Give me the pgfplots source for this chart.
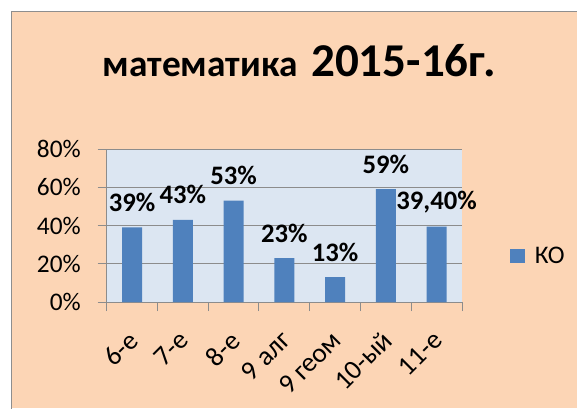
\documentclass[border=0pt]{standalone}
\usepackage{pgfplots}
\pgfplotsset{compat=1.18}
\usepackage{fontspec}
\setmainfont{Carlito}
\definecolor{peach}{HTML}{FCD5B5}
\definecolor{plotblue}{HTML}{DCE6F2}
\definecolor{barblue}{HTML}{4F81BD}
\definecolor{gridgray}{HTML}{8C8C8C}
\definecolor{bordergray}{HTML}{8E8E8E}
\begin{document}
\begin{tikzpicture}
\path[use as bounding box] (0pt,0pt) rectangle (432.75pt,306pt);
\fill[white] (0pt,0pt) rectangle (432.75pt,306pt);
\fill[peach] (8.625pt,0pt) rectangle (440pt,297pt);
\draw[bordergray, line width=0.75pt] (8.625pt,-5pt) -- (8.625pt,297pt) -- (440pt,297pt);
\node[anchor=base west, inner sep=0pt, font=\fontsize{28pt}{32pt}\selectfont\bfseries] at (77.0pt,248.5pt) {математика};
\node[anchor=base west, inner sep=0pt, font=\fontsize{35.3pt}{40pt}\selectfont\bfseries] at (233.25pt,248.5pt) {2015-16г.};
\begin{axis}[
  at={(80.0pt,79.5pt)}, anchor=south west,
  scale only axis, width=266.5pt, height=114.75pt,
  ymin=0, ymax=80, xmin=-0.5, xmax=6.5,
  ytick={0,20,...,80},
  yticklabel={\pgfmathprintnumber{\tick}\%},
  xtick={-0.5,0.5,...,6.5},
  xticklabels={6-е,7-е,8-е,9 алг,9 геом,10-ый,11-е},
  x tick label as interval,
  /pgf/number format/assume math mode=true,
  tick align=outside, major tick length=6.75pt,
  tick style={draw=gridgray, line width=0.75pt},
  axis x line*=bottom, axis y line*=left,
  axis line style={-, draw=gridgray, line width=0.75pt},
  ymajorgrids, grid style={draw=gridgray, line width=0.75pt},
  axis background/.style={fill=plotblue},
  tick label style={font=\fontsize{19pt}{22pt}\selectfont, inner sep=0pt},
  yticklabel style={anchor=east, xshift=-12.5pt},
  xticklabel style={font=\fontsize{20.5pt}{24pt}\selectfont, xshift=-3.75pt, yshift=-13.6pt, rotate=45, anchor=north east},
  ybar, bar width=15pt,
  nodes near coords, point meta=explicit symbolic,
  every node near coord/.append style={font=\fontsize{20pt}{24pt}\selectfont\bfseries, anchor=center, inner sep=0pt, yshift=18.75pt},
  legend style={at={(1.135,0.30)}, anchor=west, draw=none, fill=none, inner sep=0pt,
    font=\fontsize{19pt}{22pt}\selectfont, nodes={inner sep=0pt}, column sep=7.5pt},
  legend image code/.code={\fill[barblue] (0pt,-5.4pt) rectangle (10.9pt,5.4pt);},
]
\addplot[fill=barblue, draw=none] coordinates {
  (0,39) [39\%]
  (1,43) [43\%]
  (2,53) [53\%]
  (3,23) [23\%]
  (4,13) [13\%]
  (5,59) [59\%]
  (6,39.4) [{39,40\%}]
};
\addlegendentry{КО}
\end{axis}
\end{tikzpicture}
\end{document}
